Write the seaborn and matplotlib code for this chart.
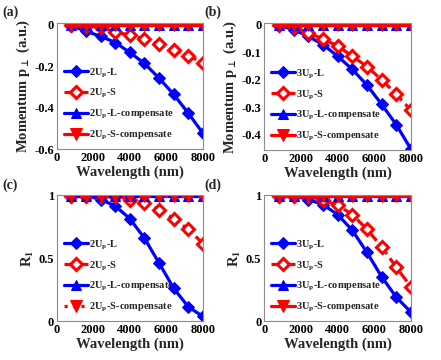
import numpy as np
import pandas as pd
import matplotlib
matplotlib.use("Agg")
import matplotlib.pyplot as plt
import seaborn as sns

# ------------------------------------------------------------------ #
#  Data                                #
# ------------------------------------------------------------------ #
wavelength = [800, 1600, 2400, 3200, 4000, 4800, 5600, 6400, 7200, 8000]

# (a) momentum, 2Up
p_2up_L = [-0.005, -0.032, -0.056, -0.086, -0.134, -0.187, -0.258, -0.336, -0.427, -0.523]
p_2up_S = [0.0, -0.005, -0.012, -0.035, -0.051, -0.070, -0.093, -0.120, -0.150, -0.184]
p_2up_Lc = [0.0] * 10
p_2up_Sc = [0.0] * 10

# (b) momentum, 3Up
p_3up_L = [-0.002, -0.018, -0.042, -0.072, -0.114, -0.162, -0.219, -0.289, -0.363, -0.452]
p_3up_S = [0.0, -0.010, -0.029, -0.052, -0.077, -0.114, -0.152, -0.200, -0.252, -0.311]
p_3up_Lc = [0.0] * 10
p_3up_Sc = [0.0] * 10

# (c) R1, 2Up
r_2up_L = [1.0, 1.0, 0.970, 0.918, 0.817, 0.661, 0.463, 0.262, 0.114, 0.037]
r_2up_S = [1.0, 1.0, 1.0, 1.0, 0.970, 0.940, 0.890, 0.817, 0.733, 0.619]
r_2up_Lc = [1.0] * 10
r_2up_Sc = [1.0] * 10

# (d) R1, 3Up
r_3up_L = [1.0, 1.0, 0.970, 0.930, 0.850, 0.725, 0.548, 0.354, 0.190, 0.071]
r_3up_S = [1.0, 1.0, 1.0, 0.963, 0.926, 0.850, 0.733, 0.593, 0.429, 0.273]
r_3up_Lc = [1.0] * 10
r_3up_Sc = [1.0] * 10

sns.set_style("white")
plt.rcParams["font.family"] = ["Liberation Serif", "DejaVu Serif"]
plt.rcParams["font.weight"] = "bold"
plt.rcParams["axes.labelweight"] = "bold"
plt.rcParams["mathtext.fontset"] = "stix"
plt.rcParams["mathtext.default"] = "bf"

BLUE = "#0000FF"
RED = "#FF0000"

fig = plt.figure(figsize=(4.41, 3.6), dpi=100)
boxes = {
    "a": [0.129, 0.586, 0.331, 0.350],
    "b": [0.599, 0.583, 0.333, 0.353],
    "c": [0.129, 0.108, 0.331, 0.350],
    "d": [0.599, 0.108, 0.333, 0.350],
}
# panel label positions (figure fraction)
tags = {"a": (0.005, 0.985), "b": (0.463, 0.985), "c": (0.005, 0.505), "d": (0.463, 0.505)}

plab = "Momentum p$_{\\bot}$ (a.u.)"
panels = [
    ("a", "2", p_2up_L, p_2up_S, p_2up_Lc, p_2up_Sc, plab,
     (-0.6, 0.008), [-0.6, -0.4, -0.2, 0], ["-0.6", "-0.4", "-0.2", "0"], "-"),
    ("b", "3", p_3up_L, p_3up_S, p_3up_Lc, p_3up_Sc, plab,
     (-0.455, 0.006), [-0.4, -0.3, -0.2, -0.1, 0], ["-0.4", "-0.3", "-0.2", "-0.1", "0"], "-"),
    ("c", "2", r_2up_L, r_2up_S, r_2up_Lc, r_2up_Sc, "R$_{1}$",
     (0, 1.005), [0, 0.5, 1], ["0", "0.5", "1"], ":"),
    ("d", "3", r_3up_L, r_3up_S, r_3up_Lc, r_3up_Sc, "R$_{1}$",
     (0, 1.005), [0, 0.5, 1], ["0", "0.5", "1"], "-"),
]

for key, n, yL, yS, yLc, ySc, ylab, ylim, yt, ytl, sc_ls in panels:
    ax = fig.add_axes(boxes[key])
    df = pd.DataFrame({"x": wavelength, "L": yL, "S": yS, "Lc": yLc, "Sc": ySc})
    sns.lineplot(data=df, x="x", y="L", ax=ax, color=BLUE, lw=2.3, marker="D",
                 markersize=6.5, markeredgecolor=BLUE, markerfacecolor=BLUE,
                 label=f"{n}U$_{{p}}$-L")
    sns.lineplot(data=df, x="x", y="S", ax=ax, color=RED, lw=2.3, ls="--", marker="D",
                 markersize=6.5, markeredgecolor=RED, markerfacecolor="white",
                 markeredgewidth=2.2, label=f"{n}U$_{{p}}$-S")
    sns.lineplot(data=df, x="x", y="Lc", ax=ax, color=BLUE, lw=2.3, marker="^",
                 markersize=7.5, markeredgecolor=BLUE, markerfacecolor=BLUE,
                 label=f"{n}U$_{{p}}$-L-compensate")
    sns.lineplot(data=df, x="x", y="Sc", ax=ax, color=RED, lw=2.3, ls=sc_ls, marker="v",
                 markersize=8.5, markeredgecolor=RED, markerfacecolor=RED,
                 label=f"{n}U$_{{p}}$-S-compensate")
    ax.set_xlim(0, 8000)
    ax.set_ylim(*ylim)
    ax.set_xticks([0, 2000, 4000, 6000, 8000])
    ax.set_xticklabels(["0", "2000", "4000", "6000", "8000"])
    ax.set_yticks(yt)
    ax.set_yticklabels(ytl)
    ax.tick_params(direction="in", length=3, width=0.6, labelsize=9, colors="#262626",
                   top=False, right=False, pad=2)
    for lab in ax.get_xticklabels() + ax.get_yticklabels():
        lab.set_fontweight("bold")
        lab.set_color("black")
    for sp in ax.spines.values():
        sp.set_color("#8c8c8c")
        sp.set_linewidth(0.8)
    ax.set_xlabel("Wavelength (nm)", fontsize=10.5, labelpad=1)
    ax.set_ylabel(ylab, fontsize=10.5, labelpad=2)
    ax.legend(loc="lower left", frameon=False, handlelength=2.3,
              handletextpad=0.15, labelspacing=0.75, borderaxespad=0.25,
              prop={"weight": "bold", "size": 7.5})
    fig.text(tags[key][0], tags[key][1], f"({key})", fontsize=10,
             fontweight="bold", va="top", ha="left")

plt.savefig("out.png", dpi=100)
